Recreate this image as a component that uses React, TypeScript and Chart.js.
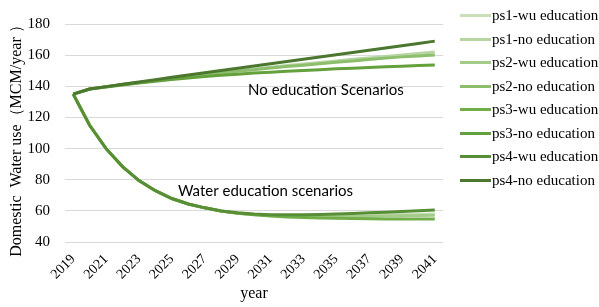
import React, { useEffect, useRef } from 'react';
import { Chart, registerables } from 'chart.js';

Chart.register(...registerables);

const years = ['2019', '2020', '2021', '2022', '2023', '2024', '2025', '2026', '2027', '2028', '2029', '2030', '2031', '2032', '2033', '2034', '2035', '2036', '2037', '2038', '2039', '2040', '2041'];

const seriesNames = ['ps1-wu education', 'ps1-no education', 'ps2-wu education', 'ps2-no education', 'ps3-wu education', 'ps3-no education', 'ps4-wu education', 'ps4-no education'];

const ps1Wu = [135, 115, 100, 88.5, 79.5, 73, 68, 64.5, 62, 60, 58.7, 57.8, 57.3, 57.0, 56.9, 56.9, 57.0, 57.1, 57.3, 57.5, 57.7, 57.9, 58.1];
const ps1No = [135, 138.3, 139.7, 141.1, 142.5, 143.9, 145.2, 146.5, 147.7, 148.9, 150.0, 151.1, 152.2, 153.3, 154.3, 155.3, 156.3, 157.3, 158.2, 159.2, 160.1, 161.1, 162.0];
const ps2Wu = [135, 115, 100, 88.5, 79.5, 73, 68, 64.5, 62, 60, 58.6, 57.7, 57.1, 56.7, 56.5, 56.4, 56.4, 56.5, 56.6, 56.7, 56.9, 57.1, 57.3];
const ps2No = [135, 138.3, 139.7, 141.1, 142.4, 143.7, 145.0, 146.2, 147.4, 148.5, 149.6, 150.7, 151.7, 152.7, 153.6, 154.5, 155.4, 156.3, 157.2, 158.1, 158.9, 159.5, 160.1];
const ps3Wu = [135, 115, 100, 88.5, 79.5, 73, 68, 64.5, 62, 60, 58.5, 57.5, 56.8, 56.2, 55.8, 55.5, 55.3, 55.1, 55.0, 54.9, 54.9, 54.8, 54.8];
const ps3No = [135, 138.3, 139.6, 140.9, 142.1, 143.3, 144.4, 145.4, 146.3, 147.1, 147.8, 148.5, 149.1, 149.7, 150.2, 150.7, 151.2, 151.6, 152.1, 152.5, 152.9, 153.3, 153.7];
const ps4Wu = [135, 115, 100, 88.5, 79.5, 73, 68, 64.5, 62, 60, 58.8, 58.0, 57.6, 57.5, 57.6, 57.8, 58.1, 58.4, 58.8, 59.2, 59.6, 60.1, 60.6];
const ps4No = [135, 138.3, 139.8, 141.3, 142.8, 144.3, 145.8, 147.3, 148.7, 150.2, 151.6, 153.0, 154.5, 155.9, 157.4, 158.8, 160.3, 161.7, 163.2, 164.6, 166.1, 167.5, 169.0];

const seriesValues = [ps1Wu, ps1No, ps2Wu, ps2No, ps3Wu, ps3No, ps4Wu, ps4No];
const seriesColors = ['#C9DFBA', '#B7D5A3', '#A5CB8B', '#8DBE6C', '#72AE48', '#64A03C', '#588E35', '#4B772E'];

const yTitle = 'Domestic  Water use（MCM/year ）  ';
const xTitle = 'year';

const annotationTexts = ['No education Scenarios', 'Water education scenarios'];
const annotationAnchors = [
  { x: 10.64, y: 137.7 },
  { x: 6.37, y: 72.9 },
];

const W = 599;
const H = 307;

const annotationPlugin = {
  id: 'textAnnotations',
  afterDatasetsDraw(chart: any) {
    const ctx = chart.ctx;
    const xs = chart.scales.x;
    const ys = chart.scales.y;
    ctx.save();
    ctx.font = '15px Lato';
    ctx.fillStyle = '#000';
    ctx.textAlign = 'left';
    ctx.textBaseline = 'middle';
    annotationTexts.forEach((t, i) => {
      const a = annotationAnchors[i];
      ctx.fillText(t, xs.getPixelForValue(a.x), ys.getPixelForValue(a.y));
    });
    ctx.restore();
  },
};

export default function App() {
  const ref = useRef<HTMLCanvasElement>(null);

  useEffect(() => {
    if (!ref.current) return;
    const chart = new Chart(ref.current, {
      type: 'line',
      data: {
        labels: years,
        datasets: seriesNames.map((name, i) => ({
          label: name,
          data: seriesValues[i],
          borderColor: seriesColors[i],
          backgroundColor: seriesColors[i],
          borderWidth: 3,
          pointRadius: 0,
          tension: 0,
          fill: false,
          order: seriesNames.length - i,
        })),
      },
      options: {
        animation: false,
        responsive: false,
        layout: { padding: { left: 0, right: 156, top: 0, bottom: 4 } },
        plugins: {
          legend: { display: false },
          tooltip: { enabled: false },
        },
        scales: {
          x: {
            type: 'category',
            offset: true,
            grid: { display: false },
            border: { display: false },
            ticks: {
              autoSkip: false,
              maxRotation: 45,
              minRotation: 45,
              padding: 1,
              color: '#000',
              font: { family: 'Liberation Serif', size: 14 },
              callback: (_v: any, i: number) => (i % 2 === 0 ? years[i] : ''),
            },
            title: {
              display: true,
              text: xTitle,
              color: '#000',
              font: { family: 'Liberation Serif', size: 16 },
              padding: { top: 0, bottom: 0 },
            },
          },
          y: {
            min: 40,
            max: 180,
            afterFit: (scale: any) => {
              scale.width = 65;
            },
            grid: { color: '#d9d9d9', lineWidth: 1, drawTicks: false },
            border: { display: false },
            ticks: {
              stepSize: 20,
              padding: 15,
              color: '#000',
              font: { family: 'Liberation Serif', size: 15 },
            },
            title: {
              display: true,
              text: yTitle,
              color: '#000',
              font: { family: 'Liberation Serif', size: 16 },
              padding: { top: 7, bottom: 2 },
            },
          },
        },
      },
      plugins: [annotationPlugin],
    });
    return () => chart.destroy();
  }, []);

  const itemCenters = [15.7, 39, 62.5, 86, 109.5, 133, 156.5, 180];

  return (
    <div style={{ position: 'fixed', left: 0, top: 0, width: W, height: H, background: '#fff' }}>
      <canvas ref={ref} width={W} height={H} style={{ display: 'block' }} />
      {seriesNames.map((name, i) => (
        <div
          key={name}
          style={{
            position: 'absolute',
            left: 460,
            top: itemCenters[i] - 10,
            height: 20,
            display: 'flex',
            alignItems: 'center',
            fontFamily: 'Liberation Serif',
            fontSize: 15,
            color: '#000',
            whiteSpace: 'nowrap',
          }}
        >
          <span style={{ display: 'inline-block', width: 31, height: 3, background: seriesColors[i], marginRight: 1 }} />
          <span>{name}</span>
        </div>
      ))}
    </div>
  );
}
